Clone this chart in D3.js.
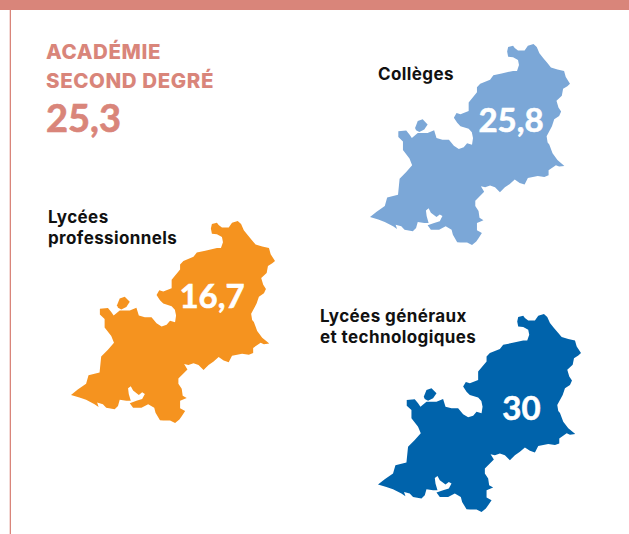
<!DOCTYPE html>
<html>
<head>
<meta charset="utf-8">
<script src="https://cdn.jsdelivr.net/npm/d3@7"></script>
<style>
  html, body { margin: 0; padding: 0; background: #fff; }
  text { font-family: Inter, "Noto Sans", sans-serif; }
</style>
</head>
<body>
<div id="chart"></div>
<script>
// Values
const categories = ["Collèges", "Lycées professionnels", "Lycées généraux et technologiques"];
const seriesValues = ["25,8", "16,7", "30"];
const academyLabel = ["ACADÉMIE", "SECOND DEGRÉ"];
const academyValue = "25,3";
const colors = ["#7ba7d7", "#f5931f", "#0063ab"];
const accent = "#d9857a";

// Region outline (arbitrary map units)
const regionOutline = [
  [518.3,317.3],[523.3,316],[525,318.3],[528.3,320.7],[535,320.7],[538.3,316],[544,314.3],[547.3,317.3],
  [550,323.3],[554,328.3],[558.3,333.3],[561.7,337.3],[568.3,339.3],[575,340.7],[576.7,346.7],[581,353.3],
  [578.3,355.7],[574,358.3],[572.7,365],[567.3,370],[569.3,376.7],[572,380.7],[570,385],[565,388.3],
  [562.7,395],[557.3,405],[558.3,411],[560,413],[563.3,421.7],[568.3,428.3],[575.3,434],[570,434.7],
  [566.7,433.3],[559.3,438.3],[559.3,443.3],[555,445],[548.3,444],[538.3,446],[535,452.3],[530,450.7],
  [525,447.3],[520,451.7],[515,455],[510,460],[505,455],[500,453.3],[495,455],[490.7,454],[494,459.3],
  [490,463.3],[485,468.3],[485,473.3],[488.3,478.3],[489.3,485],[493.3,487.3],[486.7,490],[486.7,497.3],
  [491.7,500],[488.3,505],[486,508.3],[481.7,511.7],[476.7,509.3],[470,509.3],[466.7,509],[462.3,501.7],
  [461,496.7],[455,493.3],[448.3,496.7],[440,496.7],[436.7,492.3],[443.3,490],[449,488.3],[451.7,483.3],
  [449,481.7],[445.7,484.3],[440,480],[437.7,475.7],[435,477.7],[435.7,483.3],[437.7,490],[433.3,490],
  [426.7,489],[425,495],[421.7,498.3],[413.3,496.7],[410,493.3],[404.3,491.7],[405.7,496],[401.7,493.3],
  [393.3,489],[386.7,486.7],[378.3,484.3],[385,479],[393.3,473.3],[395.7,465],[406.7,462.3],[408.3,446.7],
  [415,440],[421,433.3],[418.3,426.7],[411.7,418.3],[411.7,410],[407,405.7],[407,400],[415,399.3],
  [418.3,403.3],[420.7,406.7],[426.7,401.7],[436.7,401.7],[443.3,399],[445.7,406.7],[451.7,408.3],
  [458.3,408.3],[463.3,414.3],[468.3,417.3],[473.3,415.7],[476.7,411.7],[481.7,413.3],[482.7,406.7],
  [481.5,401],[478.3,397.5],[470,395],[466.7,391.7],[463.3,386.7],[466,382],[470,383.3],[478.3,380],
  [478.3,371.7],[486.7,361.7],[486.7,356.7],[490,353.3],[500,349.3],[503.3,345],[511.7,343.3],[523.3,340.7],
  [527.3,340.7],[529.3,335],[528.3,330],[523.3,327.3],[518.3,326.7],[517.3,321.7]
];
const regionIsland = [[424,396.7],[426.7,390],[431.7,388.3],[436.7,393.3],[433.3,398.3],[428.3,400.7],[425,399]];

const width = 629,
      height = 534;

// Where each small map sits on the page
const mapBoxes = [
  {x: [370, 570], y: [44, 245], valueAt: [511, 132], labelAt: [378, 80]},
  {x: [71, 275], y: [221, 423], valueAt: [212, 308], labelAt: [48, 223]},
  {x: [378, 581], y: [314, 512], valueAt: [521.5, 420], labelAt: [320, 321.5]}
];
const labelLines = [["Collèges"], ["Lycées", "professionnels"], ["Lycées généraux", "et technologiques"]];

const svg = d3.select("#chart").append("svg")
    .attr("width", width)
    .attr("height", height)
    .style("display", "block");

// frame: top band and left rule
svg.append("rect").attr("x", 0).attr("y", 0).attr("width", width).attr("height", 10).attr("fill", accent);
svg.append("rect").attr("x", 9.7).attr("y", 10).attr("width", 1.3).attr("height", height - 10).attr("fill", accent);

const head = svg.append("g").attr("fill", accent);
head.selectAll("text.head")
    .data(academyLabel)
    .enter().append("text")
    .attr("class", "head")
    .attr("x", 46)
    .attr("y", (d, i) => 59 + i * 29)
    .attr("font-size", 20.5)
    .attr("font-weight", 800)
    .attr("letter-spacing", 0.6)
    .text(d => d);
head.append("text")
    .attr("x", 46)
    .attr("y", 132)
    .attr("font-size", 38)
    .attr("font-weight", 700)
    .attr("stroke", accent)
    .attr("stroke-width", 0.7)
    .style("font-family", "Lato, sans-serif")
    .text(academyValue);

const xDomain = d3.extent(regionOutline, d => d[0]),
      yDomain = d3.extent(regionOutline, d => d[1]);

categories.forEach((cat, i) => {
    const box = mapBoxes[i];
    const x = d3.scaleLinear().domain(xDomain).range(box.x),
          y = d3.scaleLinear().domain(yDomain).range(box.y);
    const line = d3.line().x(d => x(d[0])).y(d => y(d[1])).curve(d3.curveLinearClosed);

    const g = svg.append("g").attr("class", "map").attr("aria-label", cat);
    g.selectAll("path")
        .data([regionOutline, regionIsland])
        .enter().append("path")
        .attr("d", line)
        .attr("fill", colors[i]);

    g.append("text")
        .attr("x", box.valueAt[0])
        .attr("y", box.valueAt[1])
        .attr("text-anchor", "middle")
        .attr("font-size", 33)
        .attr("font-weight", 700)
        .attr("fill", "#fff")
        .attr("stroke", "#fff")
        .attr("stroke-width", 0.6)
        .style("font-family", "Lato, sans-serif")
        .text(seriesValues[i]);

    g.selectAll("text.label")
        .data(labelLines[i])
        .enter().append("text")
        .attr("class", "label")
        .attr("x", box.labelAt[0])
        .attr("y", (d, j) => box.labelAt[1] + j * 21)
        .attr("font-size", 17)
        .attr("font-weight", 700)
        .attr("letter-spacing", 0.4)
        .attr("fill", "#111")
        .text(d => d);
});
</script>
</body>
</html>
